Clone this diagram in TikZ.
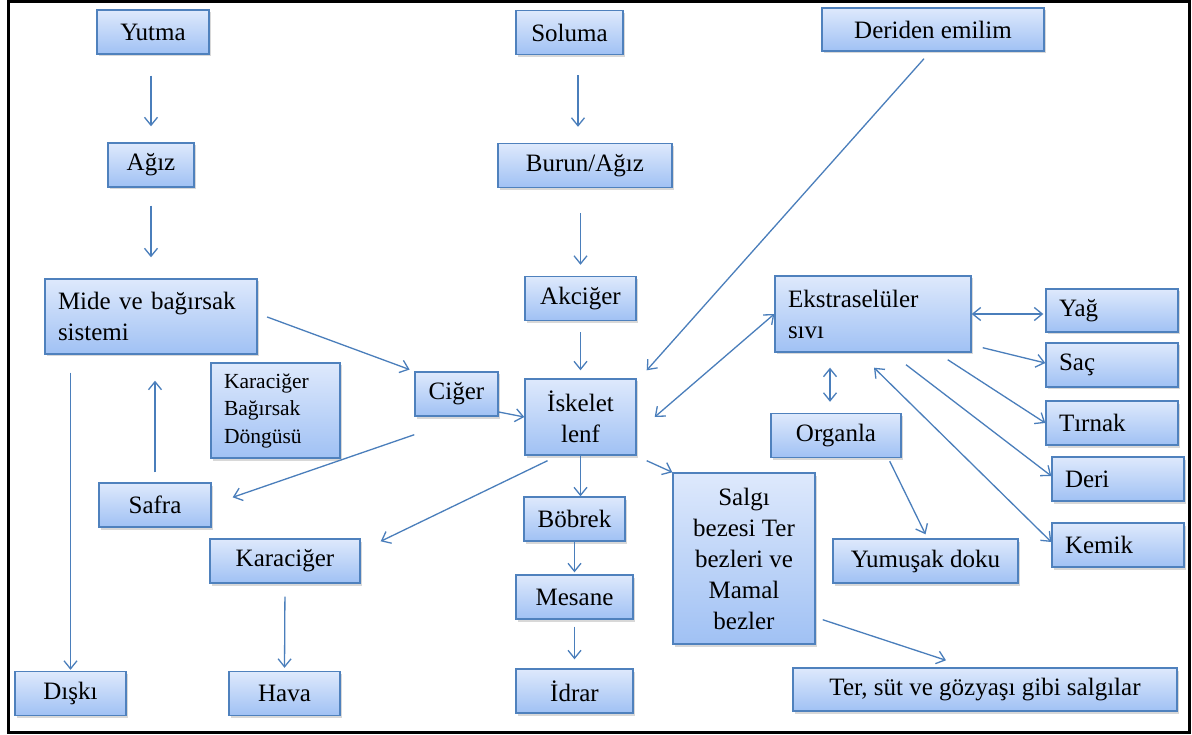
\documentclass[tikz,border=0pt]{standalone}
\usepackage{fontspec}
\setmainfont{Liberation Serif}
\usetikzlibrary{arrows.meta,shadows}
\definecolor{kutuust}{RGB}{222,233,252}
\definecolor{kutualt}{RGB}{160,193,244}
\definecolor{kenar}{RGB}{79,129,189}
\definecolor{okrenk}{RGB}{74,126,187}

\begin{document}
\begin{tikzpicture}[x=1pt,y=-1pt,
  kutu/.style={draw=kenar, line width=1.4pt, top color=kutuust, bottom color=kutualt,
    drop shadow={shadow xshift=1.5pt,shadow yshift=-2.5pt,opacity=0.3},
    font=\fontsize{25}{31}\selectfont, align=center, inner sep=2pt, minimum height=44pt},
  solkutu/.style={kutu, align=left, inner xsep=13pt},
  okcizgi/.style={draw=okrenk, line width=1.3pt, -{Straight Barb[length=8pt,width=13pt]}},
  ciftok/.style={okcizgi, {Straight Barb[length=8pt,width=13pt]}-{Straight Barb[length=8pt,width=13pt]}}]

\fill[white] (0,0) rectangle (1192,735);
\draw[line width=3pt] (8,1.5) rectangle (1189.5,732);

\node[kutu, minimum width=112pt] (yutma) at (153,32) {Yutma};
\node[kutu, minimum width=86pt] (agiz) at (151,165) {Ağız};
\node[solkutu, text width=186pt, minimum height=75pt] (mide) at (151,316.5) {Mide ve bağırsak\\sistemi};
\node[solkutu, text width=103pt, minimum height=95pt, font=\fontsize{21.5}{27.5}\selectfont] (dongu) at (275.5,410.5) {Karaciğer\\Bağırsak\\Döngüsü};
\node[kutu, minimum width=83pt] (ciger) at (456.5,394) {Ciğer};
\node[kutu, minimum width=112pt] (safra) at (155,505) {Safra};
\node[kutu, minimum width=150pt] (karaciger) at (285,561) {Karaciğer};
\node[kutu, minimum width=111pt] (diski) at (70.5,693.5) {Dışkı};
\node[kutu, minimum width=111pt] (hava) at (284.5,693.5) {Hava};

\node[kutu, minimum width=107pt] (soluma) at (569.5,32.5) {Soluma};
\node[kutu, minimum width=174pt] (burun) at (585,165.5) {Burun/Ağız};
\node[kutu, minimum width=111pt] (akciger) at (580.5,298.5) {Akciğer};
\node[kutu, minimum width=111pt, minimum height=76pt] (iskelet) at (580.5,417) {İskelet\\lenf};
\node[kutu, minimum width=101pt] (bobrek) at (574.5,519) {Böbrek};
\node[kutu, minimum width=117pt] (mesane) at (574.5,597) {Mesane};
\node[kutu, minimum width=117pt] (idrar) at (574.5,691) {İdrar};
\node[kutu, minimum width=142pt, minimum height=171pt] (salgi) at (744,558.5) {Salgı\\bezesi Ter\\bezleri ve\\Mamal\\bezler};

\node[kutu, minimum width=222pt, minimum height=43pt] (deriden) at (933,29.5) {Deriden emilim};
\node[solkutu, text width=170pt, minimum height=76pt] (ekstra) at (873,314) {Ekstraselüler\\sıvı};
\node[kutu, minimum width=130pt] (organla) at (836,435.5) {Organla};
\node[kutu, minimum width=185pt] (yumusak) at (925.5,561) {Yumuşak doku};
\node[kutu, minimum width=384pt, minimum height=43pt] (ter) at (985,689.5) {Ter, süt ve gözyaşı gibi salgılar};
\node[solkutu, text width=106pt, minimum height=43pt] (yag) at (1112,310.5) {Yağ};
\node[solkutu, text width=106pt] (sac) at (1112,365) {Saç};
\node[solkutu, text width=106pt] (tirnak) at (1112,423) {Tırnak};
\node[solkutu, text width=106pt] (deri) at (1118,479) {Deri};
\node[solkutu, text width=106pt] (kemik) at (1118,545) {Kemik};

\draw[okcizgi, shorten <=21pt, shorten >=16pt] (agiz.north |- yutma.south) -- (agiz.north);
\draw[okcizgi, shorten <=18pt, shorten >=21pt] (agiz) -- (mide);
\draw[okcizgi, shorten <=18pt, shorten >=1pt] (diski.north |- mide.south) -- (diski.north);
\draw[okcizgi, shorten <=10pt, shorten >=26pt] (safra.north) -- (safra.north |- mide.south);
\draw[okcizgi, shorten <=10pt, shorten >=5pt] ([yshift=3]mide.east) -- (ciger.north west);
\draw[okcizgi] ([yshift=-18]ciger.east) -- (iskelet.west);
\draw[okcizgi] ([yshift=-18]ciger.south west) -- ([xshift=21,yshift=-15]safra.north east);
\draw[okcizgi] ([xshift=-33,yshift=-5]iskelet.south) -- ([xshift=20,yshift=-3]karaciger.north east);
\draw[okcizgi, shorten <=13pt, shorten >=3pt] (karaciger.south) -- (hava.north);

\draw[okcizgi, shorten <=20pt, shorten >=16pt] ([xshift=-7]burun.north |- soluma.south) -- ([xshift=-7]burun.north);
\draw[okcizgi, shorten <=25pt, shorten >=11pt] (akciger.north |- burun.south) -- (akciger.north);
\draw[okcizgi, shorten <=11pt, shorten >=8pt] (akciger) -- (iskelet);
\draw[okcizgi] (iskelet.south) -- (bobrek.north -| iskelet.south);
\draw[okcizgi, shorten >=2pt] (bobrek.south -| mesane.north) -- (mesane.north);
\draw[okcizgi, shorten <=7pt, shorten >=9pt] (mesane) -- (idrar);
\draw[okcizgi] ([xshift=10,yshift=-5]iskelet.south east) -- (salgi.north west);
\draw[okcizgi] ([xshift=7,yshift=25]salgi.south east) -- ([xshift=-39,yshift=7]ter.north);

\draw[okcizgi] ([xshift=-9,yshift=-7]deriden.south) -- ([xshift=10,yshift=8]iskelet.north east);
\draw[ciftok] ([xshift=18]iskelet.east) -- (ekstra.west);
\draw[ciftok, shorten >=2pt] (ekstra.east) -- (ekstra.east -| yag.west);
\draw[okcizgi] ([xshift=11,yshift=5]ekstra.south east) -- ([yshift=2]sac.west);
\draw[okcizgi] ([xshift=-24,yshift=-7]ekstra.south east) -- (tirnak.west);
\draw[okcizgi] ([xshift=33,yshift=-12]ekstra.south) -- ([yshift=3]deri.west);
\draw[ciftok] ([yshift=3]kemik.west) -- ([xshift=1,yshift=-15]ekstra.south);
\draw[ciftok] ([xshift=-43,yshift=-15]ekstra.south) -- ([xshift=-6,yshift=11]organla.north);
\draw[okcizgi] ([xshift=-12,yshift=-3]organla.south east) -- ([yshift=4]yumusak.north);
\end{tikzpicture}
\end{document}
